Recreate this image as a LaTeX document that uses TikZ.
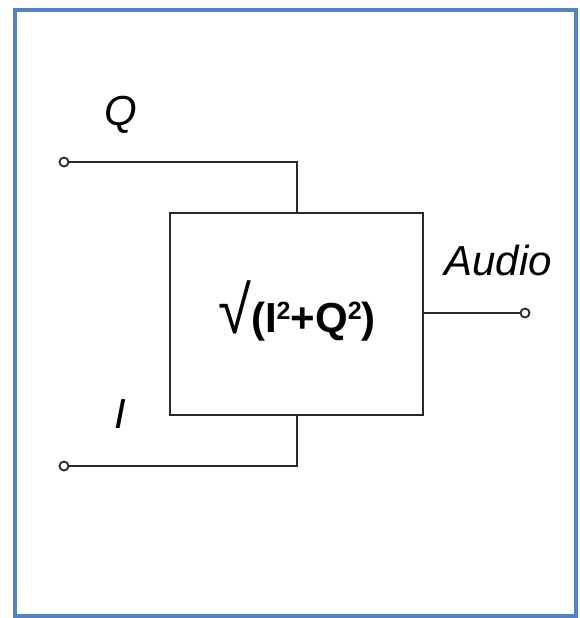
\documentclass[tikz,border=0pt]{standalone}
\usepackage{fontspec}
\setmainfont{Liberation Sans}
\definecolor{frameblue}{RGB}{84,130,194}
\definecolor{wire}{RGB}{40,40,40}
\newcommand{\supnum}[1]{\raisebox{13pt}{\fontsize{25}{25}\selectfont #1}}
\begin{document}
\begin{tikzpicture}[x=1pt,y=-1pt,
  wirestyle/.style={draw=wire,line width=2.2pt},
  term/.style={circle,draw=wire,line width=1.8pt,fill=white,inner sep=0pt,minimum size=9pt},
  lbl/.style={anchor=base,font=\fontsize{42}{42}\selectfont\itshape,inner sep=0pt},
  blockbox/.style={draw=wire,line width=2.2pt,minimum width=253pt,minimum height=202pt,inner sep=0pt}]
\useasboundingbox (0,0) rectangle (580,618);
\draw[frameblue,line width=3.5pt] (15,10) rectangle (576,616);
% block
\node[blockbox] (blk) at (296.5,314) {};
% terminals
\node[term] (tq) at (64,162) {};
\node[term] (ti) at (64,466) {};
\node[term] (ta) at (525,313) {};
% connectors
\coordinate (qk) at (297,162);
\coordinate (ik) at (297,466);
\draw[wirestyle] (tq.east) -- (qk) -- (qk |- blk.north);
\draw[wirestyle] (ti.east) -- (ik) -- (ik |- blk.south);
\draw[wirestyle] (blk.east |- ta) -- (ta.west);
% labels
\node[lbl] (lq) at (121,125) {Q};
\node[lbl] (li) at (120,428) {I};
\node[lbl] (la) at (498,275) {Audio};
\node[anchor=base,inner sep=0pt] (fm) at (297,332)
  {\raisebox{-1pt}{\scalebox{1.3}[1.45]{\fontsize{46}{46}\selectfont √}}{\bfseries\fontsize{42}{42}\selectfont (I\supnum{2}+Q\supnum{2})}};
\end{tikzpicture}
\end{document}
